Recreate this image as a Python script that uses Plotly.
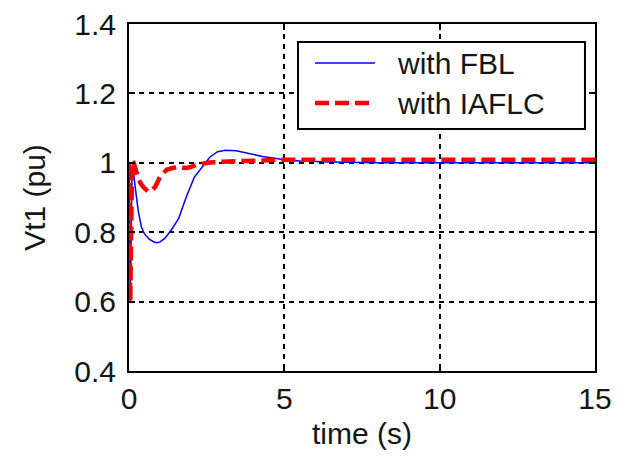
import plotly.graph_objects as go

# Terminal voltage response Vt1 (pu) versus time (s)
t_fbl = [0, 0.04, 0.1, 0.15, 0.2, 0.3, 0.4, 0.5, 0.65, 0.8, 0.9, 1.0, 1.15,
         1.35, 1.6, 1.85, 2.1, 2.4, 2.6, 2.85, 3.1, 3.45, 3.9, 4.3, 4.9, 5.5, 6.5,
         8, 10, 15]
v_fbl = [1.0, 0.6, 0.99, 0.97, 0.93, 0.86, 0.815, 0.795, 0.78, 0.772, 0.77,
         0.772, 0.782, 0.805, 0.84, 0.903, 0.958, 0.994, 1.016, 1.032, 1.036, 1.035,
         1.026, 1.018, 1.01, 1.005, 1.002, 1.0, 1.0, 1.0]

t_iaflc = [0, 0.04, 0.1, 0.15, 0.25, 0.35, 0.46, 0.55, 0.62, 0.72, 0.84, 1.0, 1.1,
           1.21, 1.4, 1.53, 1.7, 1.85, 2.0, 2.17, 2.4, 2.6, 3.0, 3.67, 4.3, 4.96,
           6, 8, 10, 12, 15]
v_iaflc = [1.0, 0.6, 1.005, 1.0, 0.97, 0.945, 0.93, 0.92, 0.917, 0.92, 0.93, 0.96,
           0.972, 0.98, 0.985, 0.987, 0.986, 0.985, 0.988, 0.994, 0.998, 1.001,
           1.003, 1.006, 1.008, 1.009, 1.009, 1.009, 1.009, 1.009, 1.009]

series_names = ["with FBL", "with IAFLC"]
series_colors = ["#0000ff", "#ff0000"]

x_ticks = [0, 5, 10, 15]
y_ticks = [0.4, 0.6, 0.8, 1.0, 1.2, 1.4]
y_tick_text = ["0.4", "0.6", "0.8", "1", "1.2", "1.4"]

FONT = "Liberation Sans, Arial, Helvetica, sans-serif"
TEXT_COLOR = "#151515"

line_styles = [
    dict(color=series_colors[0], width=1.5),
    dict(color=series_colors[1], width=4.5, dash="14px,6px"),
]

fig = go.Figure()
fig.add_trace(go.Scatter(x=t_fbl, y=v_fbl, mode="lines",
                         name=series_names[0], line=line_styles[0]))
fig.add_trace(go.Scatter(x=t_iaflc, y=v_iaflc, mode="lines",
                         name=series_names[1], line=line_styles[1]))

axis_common = dict(
    showline=True, linecolor="black", linewidth=2, mirror="ticks",
    ticks="inside", ticklen=6, tickwidth=1.5, tickcolor="black",
    showgrid=True, gridcolor="black", gridwidth=1.5, griddash="5px,5px",
    zeroline=False,
    tickfont=dict(family=FONT, size=30, color=TEXT_COLOR),
    title_font=dict(family=FONT, size=30, color=TEXT_COLOR),
)

fig.update_xaxes(
    range=[0, 15], tickmode="array", tickvals=x_ticks,
    title_text="time (s)", title_standoff=9, ticklabelstandoff=0,
    **axis_common,
)
fig.update_yaxes(
    range=[0.4, 1.4], tickmode="array", tickvals=y_ticks, ticktext=y_tick_text,
    title_text="Vt1 (pu)", title_standoff=20, ticklabelstandoff=5,
    **axis_common,
)

# Boxed legend in the upper right of the axes (paper coordinates)
box_x0, box_x1 = 0.3627, 0.9785
box_y0, box_y1 = 0.6974, 0.9481
sample_x0, sample_x1 = 0.3991, 0.5279
text_x = 0.5708
row_y = [0.8876, 0.7723]

fig.add_shape(type="rect", xref="paper", yref="paper",
              x0=box_x0, x1=box_x1, y0=box_y0, y1=box_y1,
              line=dict(color="black", width=2), fillcolor="white", layer="above")
for name, style, yy in zip(series_names, line_styles, row_y):
    fig.add_shape(type="line", xref="paper", yref="paper",
                  x0=sample_x0, x1=sample_x1, y0=yy, y1=yy,
                  line=style, layer="above")
    fig.add_annotation(xref="paper", yref="paper", x=text_x, y=yy,
                       xanchor="left", yanchor="middle", text=name,
                       showarrow=False,
                       font=dict(family=FONT, size=30, color=TEXT_COLOR))

fig.update_layout(
    width=630, height=459,
    margin=dict(l=129, r=35, t=24, b=88, autoexpand=False),
    paper_bgcolor="white", plot_bgcolor="white",
    font=dict(family=FONT, size=30, color=TEXT_COLOR),
    showlegend=False,
)

fig.write_html("out.html")
